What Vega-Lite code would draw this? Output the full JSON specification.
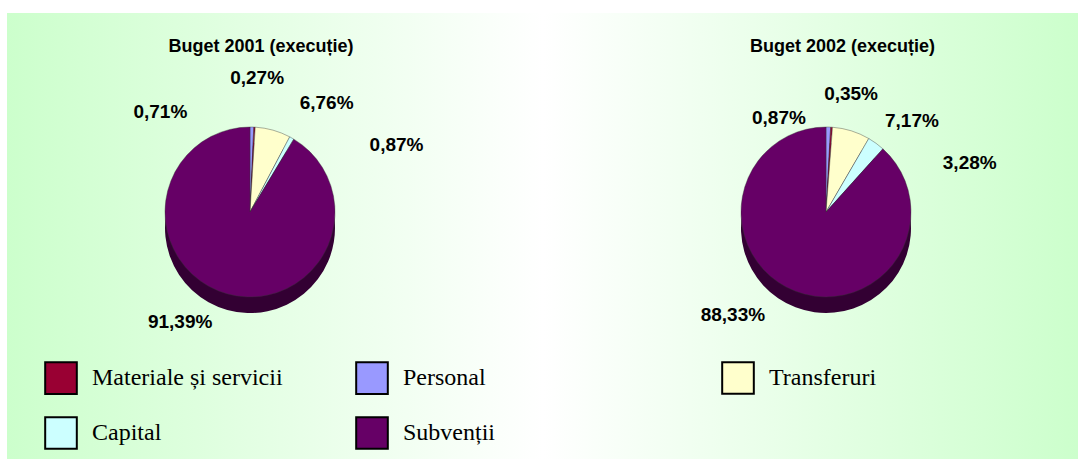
{
  "$schema": "https://vega.github.io/schema/vega-lite/v6.json",
  "background": "white",
  "padding": {"left": 7, "top": 13, "right": 0, "bottom": 2},
  "spacing": 0,
  "resolve": {"scale": {"color": "independent", "theta": "independent"}, "legend": {"color": "independent"}},
  "config": {
    "locale": {"number": {"decimal": ",", "thousands": ".", "grouping": [3], "currency": ["", " lei"]}},
    "view": {"stroke": null},
    "text": {"font": "Liberation Sans", "fontSize": 19, "fontWeight": "bold", "color": "black"},
    "title": {"font": "Liberation Sans", "fontSize": 18, "fontWeight": "bold", "color": "black", "anchor": "middle"},
    "legend": {
      "orient": "none", "title": null, "padding": 0, "direction": "horizontal",
      "symbolType": "square", "symbolSize": 1000, "symbolStrokeColor": "black", "symbolStrokeWidth": 2, "symbolOpacity": 1,
      "labelFont": "Liberation Serif", "labelFontSize": 24, "labelColor": "black", "labelOffset": 14, "labelLimit": 400,
      "columnPadding": 69, "rowPadding": 15
    }
  },
  "hconcat": [
    {
      "width": 536, "height": 446,
      "view": {"stroke": null, "fill": {"gradient": "linear", "x1": 0, "y1": 0, "x2": 1, "y2": 0, "stops": [{"offset": 0, "color": "#ccffcc"}, {"offset": 1, "color": "#ffffff"}]}},
      "title": {"text": "Buget 2001 (execuție)", "offset": -43, "dx": -14},
      "data": {"values": [
        {"category": "Personal", "ord": 1, "value": 0.0071},
        {"category": "Materiale și servicii", "ord": 2, "value": 0.0027},
        {"category": "Transferuri", "ord": 3, "value": 0.0676},
        {"category": "Capital", "ord": 4, "value": 0.0087},
        {"category": "Subvenții", "ord": 5, "value": 0.9139}
      ]},
      "layer": [
        {"mark": {"type": "arc", "radius": 85, "xOffset": -25, "yOffset": -8, "color": "#330033"},
         "encoding": {"theta": {"field": "value", "type": "quantitative", "stack": true}, "order": {"field": "ord"}, "detail": {"field": "category"}}},
        {"mark": {"type": "arc", "radius": 85, "xOffset": -25, "yOffset": -24, "stroke": "#333333", "strokeWidth": 0.4},
         "encoding": {
           "theta": {"field": "value", "type": "quantitative", "stack": true},
           "order": {"field": "ord"},
           "color": {"field": "category", "type": "nominal",
             "scale": {"domain": ["Materiale și servicii", "Personal", "Transferuri", "Capital", "Subvenții"], "range": ["#990033", "#9999ff", "#ffffcc", "#ccffff", "#660066"]},
             "legend": {"values": ["Materiale și servicii", "Personal", "Capital", "Subvenții"], "columns": 2, "legendX": 37, "legendY": 348}}
         }},
        {"mark": {"type": "text", "radius": 134, "thetaOffset": -0.755, "xOffset": -25, "yOffset": -24},
         "encoding": {"theta": {"field": "value", "type": "quantitative", "stack": true}, "order": {"field": "ord"}, "detail": {"field": "category"},
           "text": {"condition": {"test": "datum.category === 'Personal'", "field": "value", "type": "quantitative", "format": ".2%"}, "value": ""}}},
        {"mark": {"type": "text", "radius": 134, "thetaOffset": 0.0, "xOffset": -25, "yOffset": -24},
         "encoding": {"theta": {"field": "value", "type": "quantitative", "stack": true}, "order": {"field": "ord"}, "detail": {"field": "category"},
           "text": {"condition": {"test": "datum.category === 'Materiale și servicii'", "field": "value", "type": "quantitative", "format": ".2%"}, "value": ""}}},
        {"mark": {"type": "text", "radius": 133, "thetaOffset": 0.34, "xOffset": -25, "yOffset": -24},
         "encoding": {"theta": {"field": "value", "type": "quantitative", "stack": true}, "order": {"field": "ord"}, "detail": {"field": "category"},
           "text": {"condition": {"test": "datum.category === 'Transferuri'", "field": "value", "type": "quantitative", "format": ".2%"}, "value": ""}}},
        {"mark": {"type": "text", "radius": 161, "thetaOffset": 0.63, "xOffset": -25, "yOffset": -24},
         "encoding": {"theta": {"field": "value", "type": "quantitative", "stack": true}, "order": {"field": "ord"}, "detail": {"field": "category"},
           "text": {"condition": {"test": "datum.category === 'Capital'", "field": "value", "type": "quantitative", "format": ".2%"}, "value": ""}}},
        {"mark": {"type": "text", "radius": 130, "thetaOffset": 0.297, "xOffset": -25, "yOffset": -24},
         "encoding": {"theta": {"field": "value", "type": "quantitative", "stack": true}, "order": {"field": "ord"}, "detail": {"field": "category"},
           "text": {"condition": {"test": "datum.category === 'Subvenții'", "field": "value", "type": "quantitative", "format": ".2%"}, "value": ""}}}
      ]
    },
    {
      "width": 535, "height": 446,
      "view": {"stroke": null, "fill": {"gradient": "linear", "x1": 0, "y1": 0, "x2": 1, "y2": 0, "stops": [{"offset": 0, "color": "#ffffff"}, {"offset": 1, "color": "#ccffcc"}]}},
      "title": {"text": "Buget 2002 (execuție)", "offset": -43, "dx": 32},
      "data": {"values": [
        {"category": "Personal", "ord": 1, "value": 0.0087},
        {"category": "Materiale și servicii", "ord": 2, "value": 0.0035},
        {"category": "Transferuri", "ord": 3, "value": 0.0717},
        {"category": "Capital", "ord": 4, "value": 0.0328},
        {"category": "Subvenții", "ord": 5, "value": 0.8833}
      ]},
      "layer": [
        {"mark": {"type": "arc", "radius": 85, "xOffset": 15.5, "yOffset": -8, "color": "#330033"},
         "encoding": {"theta": {"field": "value", "type": "quantitative", "stack": true}, "order": {"field": "ord"}, "detail": {"field": "category"}}},
        {"mark": {"type": "arc", "radius": 85, "xOffset": 15.5, "yOffset": -24, "stroke": "#333333", "strokeWidth": 0.4},
         "encoding": {
           "theta": {"field": "value", "type": "quantitative", "stack": true},
           "order": {"field": "ord"},
           "color": {"field": "category", "type": "nominal",
             "scale": {"domain": ["Materiale și servicii", "Personal", "Transferuri", "Capital", "Subvenții"], "range": ["#990033", "#9999ff", "#ffffcc", "#ccffff", "#660066"]},
             "legend": {"values": ["Transferuri"], "columns": 1, "legendX": 178, "legendY": 348}}
         }},
        {"mark": {"type": "text", "radius": 105, "thetaOffset": -0.492, "xOffset": 15.5, "yOffset": -24},
         "encoding": {"theta": {"field": "value", "type": "quantitative", "stack": true}, "order": {"field": "ord"}, "detail": {"field": "category"},
           "text": {"condition": {"test": "datum.category === 'Personal'", "field": "value", "type": "quantitative", "format": ".2%"}, "value": ""}}},
        {"mark": {"type": "text", "radius": 121, "thetaOffset": 0.143, "xOffset": 15.5, "yOffset": -24},
         "encoding": {"theta": {"field": "value", "type": "quantitative", "stack": true}, "order": {"field": "ord"}, "detail": {"field": "category"},
           "text": {"condition": {"test": "datum.category === 'Materiale și servicii'", "field": "value", "type": "quantitative", "format": ".2%"}, "value": ""}}},
        {"mark": {"type": "text", "radius": 125, "thetaOffset": 0.456, "xOffset": 15.5, "yOffset": -24},
         "encoding": {"theta": {"field": "value", "type": "quantitative", "stack": true}, "order": {"field": "ord"}, "detail": {"field": "category"},
           "text": {"condition": {"test": "datum.category === 'Transferuri'", "field": "value", "type": "quantitative", "format": ".2%"}, "value": ""}}},
        {"mark": {"type": "text", "radius": 152, "thetaOffset": 0.609, "xOffset": 15.5, "yOffset": -24},
         "encoding": {"theta": {"field": "value", "type": "quantitative", "stack": true}, "order": {"field": "ord"}, "detail": {"field": "category"},
           "text": {"condition": {"test": "datum.category === 'Capital'", "field": "value", "type": "quantitative", "format": ".2%"}, "value": ""}}},
        {"mark": {"type": "text", "radius": 139, "thetaOffset": 0.367, "xOffset": 15.5, "yOffset": -24},
         "encoding": {"theta": {"field": "value", "type": "quantitative", "stack": true}, "order": {"field": "ord"}, "detail": {"field": "category"},
           "text": {"condition": {"test": "datum.category === 'Subvenții'", "field": "value", "type": "quantitative", "format": ".2%"}, "value": ""}}}
      ]
    }
  ]
}
